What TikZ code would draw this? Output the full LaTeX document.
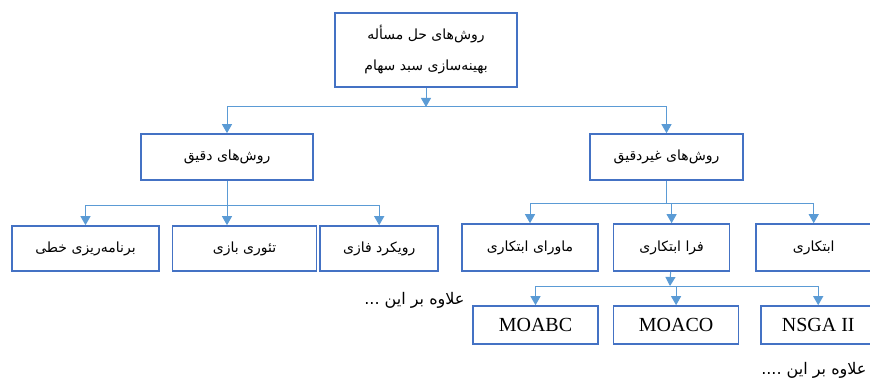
\documentclass[tikz,border=0pt]{standalone}
\usepackage{fontspec}
\setmainfont{Liberation Serif}
\newfontfamily\farsifont[Script=Arabic]{DejaVu Sans}
\TeXXeTstate=1
\usetikzlibrary{arrows.meta,positioning}
\definecolor{boxblue}{HTML}{4472C4}
\definecolor{linkblue}{HTML}{5B9BD5}
\newcommand{\fa}[1]{{\farsifont\beginR #1\endR}}
\tikzset{
    method/.style = {
        draw = boxblue,
        line width = 1.6pt,
        inner sep = 0pt,
        minimum height = 46pt,
        font = \fontsize{14}{17}\selectfont,
        },
    algo/.style = {
        method,
        minimum height = 38pt,
        font = \fontsize{20}{24}\selectfont,
        },
    link/.style = {
        draw = linkblue,
        line width = 1pt,
        },
    link arrow/.style = {
        link,
        -{Triangle[width=10pt,length=9pt]},
        },
    note/.style = {
        font = \fontsize{16}{19}\selectfont,
        },
}
\begin{document}
\begin{tikzpicture}[x=1pt,y=1pt]
    \useasboundingbox (0,0) rectangle (870,-385);

    \node[method, minimum width=182pt, minimum height=74pt, align=center] (root) at (426,-50)
        {\fa{روش‌های حل مسأله}\\[14pt]\fa{بهینه‌سازی سبد سهام}};

    \node[method, minimum width=172pt] (exact) at (227,-157) {\fa{روش‌های دقیق}};
    \node[method, minimum width=153pt] (nonexact) at (666.5,-157) {\fa{روش‌های غیردقیق}};

    \node[method, minimum width=147pt, minimum height=45pt] (linear) at (85.5,-248.5) {\fa{برنامه‌ریزی خطی}};
    \node[method, minimum width=144pt, minimum height=45pt, right=12pt of linear] (game) {\fa{تئوری بازی}};
    \node[method, minimum width=118pt, minimum height=45pt, right=2pt of game] (fuzzy) {\fa{رویکرد فازی}};

    \node[method, minimum width=136pt, minimum height=47pt] (beyond) at (530,-247.5) {\fa{ماورای ابتکاری}};
    \node[method, minimum width=116pt, minimum height=47pt, right=14pt of beyond] (meta) {\fa{فرا ابتکاری}};
    \node[method, minimum width=115pt, minimum height=47pt, right=25pt of meta] (heur) {\fa{ابتکاری}};

    \node[algo, minimum width=125pt] (moabc) at (535.5,-325) {MOABC};
    \node[algo, minimum width=125pt, right=14pt of moabc] (moaco) {MOACO};
    \node[algo, minimum width=114pt, right=21pt of moaco] (nsga) {NSGA II};

    \node[note, anchor=east] (more1) at (468,-300) {\fa{علاوه بر این ...}};
    \node[note, anchor=east] (more2) at (870,-370) {\fa{علاوه بر این ....}};

    % bars
    \coordinate (rootbar) at (426,-107);
    \coordinate (exactbar) at (227,-205);
    \coordinate (nonexactbar) at (666.5,-203);
    \coordinate (metabar) at (670,-286);

    \draw[link arrow] (root) -- (rootbar);
    \draw[link arrow] (rootbar) -| (exact);
    \draw[link arrow] (rootbar) -| (nonexact);

    \draw[link] (exact) -- (exactbar);
    \draw[link arrow] (exactbar) -| (linear);
    \draw[link arrow] (exactbar) -- (exactbar |- game.north);
    \draw[link arrow] (exactbar) -| (fuzzy);

    \draw[link] (nonexact) -- (nonexactbar);
    \draw[link arrow] (nonexactbar) -| (beyond);
    \draw[link arrow] (nonexactbar) -| (meta);
    \draw[link arrow] (nonexactbar) -| (heur);

    \draw[link arrow] (meta) -- (metabar);
    \draw[link arrow] (metabar) -| (moabc);
    \draw[link arrow] (metabar) -| (moaco);
    \draw[link arrow] (metabar) -| (nsga);
\end{tikzpicture}
\end{document}
